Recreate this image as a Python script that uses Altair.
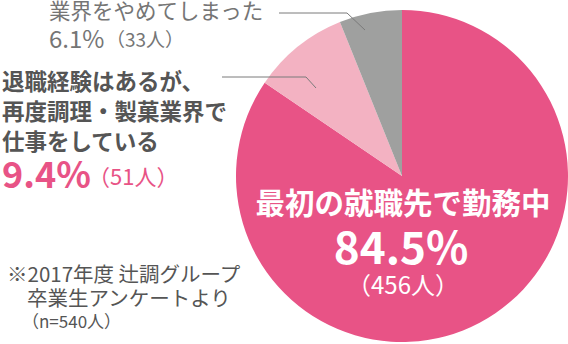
import altair as alt
import pandas as pd

categories = ["最初の就職先で勤務中", "退職経験はあるが、再度調理・製菓業界で仕事をしている", "業界をやめてしまった"]
percents = [84.5, 9.4, 6.1]
counts = [456, 51, 33]
colors = ["#E85386", "#F3B2C2", "#9FA09F"]
order = [0, 1, 2]

FONT = "Noto Sans CJK JP"
CX, CY, R = 402, 176, 166

df = pd.DataFrame({"category": categories, "percent": percents, "count": counts, "idx": order})

pie = alt.Chart(df).mark_arc(radius=R).encode(
    theta=alt.Theta("percent:Q", stack=True),
    color=alt.Color("category:N", scale=alt.Scale(domain=categories, range=colors), legend=None),
    order=alt.Order("idx:Q"),
    x=alt.value(CX),
    y=alt.value(CY),
)

one = pd.DataFrame({"k": [0]})


def txt(s, x, y, size, color, bold=False, align="left"):
    return alt.Chart(pd.DataFrame({"t": [s]})).mark_text(
        font=FONT, fontSize=size, fontWeight="bold" if bold else "normal",
        color=color, align=align, baseline="alphabetic",
    ).encode(text="t:N", x=alt.value(x), y=alt.value(y))


def seg(x1, y1, x2, y2):
    return alt.Chart(one).mark_rule(color="#7a7a7a", strokeWidth=1).encode(
        x=alt.value(x1), y=alt.value(y1), x2=alt.value(x2), y2=alt.value(y2))


GRAY = "#757575"
DARK = "#555555"
PINK = "#E85386"

layers = [
    pie,
    seg(279, 13, 347, 13), seg(347, 13, 365, 30),
    seg(222, 77, 306, 77), seg(306, 77, 316, 88),
    txt(categories[2], 49, 19, 21.5, GRAY),
    txt(f"{percents[2]}%", 49, 48, 24, GRAY),
    txt(f"（{counts[2]}人）", 106, 47, 19, GRAY),
    txt("退職経験はあるが、", 2, 90, 22.5, DARK, bold=True),
    txt("再度調理・製菓業界で", 2, 120, 22.5, DARK, bold=True),
    txt("仕事をしている", 2, 150, 22.5, DARK, bold=True),
    txt(f"{percents[1]}%", 2, 188, 36, PINK, bold=True),
    txt(f"（{counts[1]}人）", 88, 185, 22, PINK),
    txt(categories[0], 403, 214, 29.5, "white", bold=True, align="center"),
    txt(f"{percents[0]}%", 401, 264, 44, "white", bold=True, align="center"),
    txt(f"（{counts[0]}人）", 403, 294, 24, "white", align="center"),
    txt("※2017年度 辻調グループ", 7, 282, 20.5, DARK),
    txt("卒業生アンケートより", 27, 306, 20.5, DARK),
    txt("（n=540人）", 22, 328, 17, DARK),
]

chart = alt.layer(*layers).properties(
    width=568, height=344, autosize=alt.AutoSizeParams(type="none"), padding=0,
).configure_view(stroke=None)

chart.save("out.html", embed_options={"renderer": "svg", "actions": False})
